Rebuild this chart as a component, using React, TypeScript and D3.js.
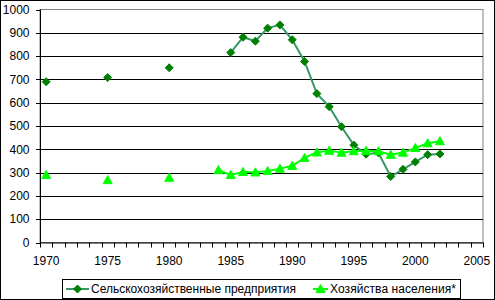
import React from "react";
import * as d3 from "d3";

const years: number[] = d3.range(1970, 2006);
const xTickLabels: number[] = [1970, 1975, 1980, 1985, 1990, 1995, 2000, 2005];
const yTicks: number[] = [0, 100, 200, 300, 400, 500, 600, 700, 800, 900, 1000];

const seriesNames: string[] = ["Сельскохозяйственные предприятия", "Хозяйства населения*"];

const enterpriseYears: number[] = [1970, 1975, 1980, 1985, 1986, 1987, 1988, 1989, 1990, 1991, 1992, 1993, 1994, 1995, 1996, 1997, 1998, 1999, 2000, 2001, 2002];
const enterpriseValues: number[] = [690, 708, 750, 815, 881, 864, 920, 934, 870, 777, 639, 583, 497, 418, 379, 385, 283, 314, 346, 377, 380];

const householdYears: number[] = [1970, 1975, 1980, 1984, 1985, 1986, 1987, 1988, 1989, 1990, 1991, 1992, 1993, 1994, 1995, 1996, 1997, 1998, 1999, 2000, 2001, 2002];
const householdValues: number[] = [290, 268, 278, 311, 290, 303, 301, 307, 317, 329, 363, 387, 394, 386, 392, 394, 392, 377, 386, 406, 426, 435];

const W = 495;
const H = 300;
const left = 40;
const right = 483;
const top = 9.5;
const bottom = 242.5;

type Pt = { year: number; value: number };

function toPoints(ys: number[], vs: number[]): Pt[] {
  return ys.map((y, i) => ({ year: y, value: vs[i] }));
}

export default function App() {
  const x = d3.scaleBand<number>().domain(years).range([left, right]).padding(0);
  const cx = (yr: number) => (x(yr) as number) + x.bandwidth() / 2;
  const y = d3.scaleLinear().domain([0, 1000]).range([bottom, top]);

  const ent = toPoints(enterpriseYears, enterpriseValues);
  const hh = toPoints(householdYears, householdValues);

  // gaps between non-consecutive years (Excel leaves missing categories empty)
  const line = (pts: Pt[]) => {
    const set = new Set(pts.map((p) => p.year));
    const full = years.map((yr) => ({ year: yr, value: set.has(yr) ? pts.find((p) => p.year === yr)!.value : NaN }));
    return d3
      .line<Pt>()
      .defined((d) => !isNaN(d.value))
      .x((d) => cx(d.year))
      .y((d) => y(d.value))(full) as string;
  };

  const diamond = (px: number, py: number, r = 4) =>
    `M${px},${py - r}L${px + r},${py}L${px},${py + r}L${px - r},${py}Z`;
  const tri = (px: number, py: number, r = 4.5) =>
    `M${px},${py - r}L${px + r},${py + r * 0.8}L${px - r},${py + r * 0.8}Z`;

  const font = "Arial, 'Liberation Sans', sans-serif";
  const tickEvery = years.concat([2006]);

  return (
    <svg width={W} height={H} style={{ position: "absolute", left: 0, top: 0, background: "#fff" }} fontFamily={font}>
      <rect x={0.5} y={0.5} width={W - 1} height={H - 1} fill="#fff" stroke="#000" />
      {/* plot area border */}
      <rect x={left} y={top} width={right - left} height={bottom - top} fill="#fff" stroke="#808080" />
      {/* gridlines */}
      {yTicks.filter((t) => t > 0 && t < 1000).map((t) => (
        <line key={t} x1={left - 4} x2={right} y1={Math.round(y(t)) + 0.5} y2={Math.round(y(t)) + 0.5} stroke="#000" />
      ))}
      {/* y ticks */}
      {yTicks.map((t) => (
        <line key={"yt" + t} x1={left - 4} x2={left} y1={Math.round(y(t)) + 0.5} y2={Math.round(y(t)) + 0.5} stroke="#000" />
      ))}
      {yTicks.map((t) => (
        <text key={"yl" + t} x={29.5} y={y(t)} dy="0.35em" textAnchor="end" fontSize={12} fill="#000">
          {t}
        </text>
      ))}
      {/* axes */}
      <line x1={left + 0.5} x2={left + 0.5} y1={top} y2={bottom + 0.5} stroke="#000" />
      <line x1={left} x2={right} y1={bottom + 0.5} y2={bottom + 0.5} stroke="#000" />
      {tickEvery.map((yr, i) => {
        const px = left + i * x.bandwidth();
        return <line key={"xt" + yr} x1={Math.round(px) + 0.5} x2={Math.round(px) + 0.5} y1={bottom} y2={bottom + 5} stroke="#000" />;
      })}
      {xTickLabels.map((yr) => (
        <text key={"xl" + yr} x={cx(yr)} y={261} dy="0.35em" textAnchor="middle" fontSize={12} fill="#000">
          {yr}
        </text>
      ))}
      {/* series: enterprises */}
      <path d={line(ent)} fill="none" stroke="#339966" strokeWidth={2} />
      {ent.map((p) => (
        <path key={"e" + p.year} d={diamond(cx(p.year), y(p.value))} fill="#008000" stroke="#008000" strokeWidth={1} />
      ))}
      {/* series: households */}
      <path d={line(hh)} fill="none" stroke="#00ff00" strokeWidth={2} />
      {hh.map((p) => (
        <path key={"h" + p.year} d={tri(cx(p.year), y(p.value))} fill="#00ff00" stroke="#00ff00" strokeWidth={1} />
      ))}
      {/* legend */}
      <rect x={62.5} y={279.5} width={398} height={19} fill="#fff" stroke="#000" />
      <line x1={66} x2={89} y1={289} y2={289} stroke="#339966" strokeWidth={2} />
      <path d={diamond(77.5, 289)} fill="#008000" stroke="#008000" />
      <text x={91} y={289} dy="0.35em" fontSize={12} fill="#000" textLength={205} lengthAdjust="spacing">
        {seriesNames[0]}
      </text>
      <line x1={313} x2={328} y1={289} y2={289} stroke="#00ff00" strokeWidth={2} />
      <path d={tri(320.5, 289)} fill="#00ff00" stroke="#00ff00" />
      <text x={330} y={289} dy="0.35em" fontSize={12} fill="#000" textLength={126} lengthAdjust="spacing">
        {seriesNames[1]}
      </text>
    </svg>
  );
}
